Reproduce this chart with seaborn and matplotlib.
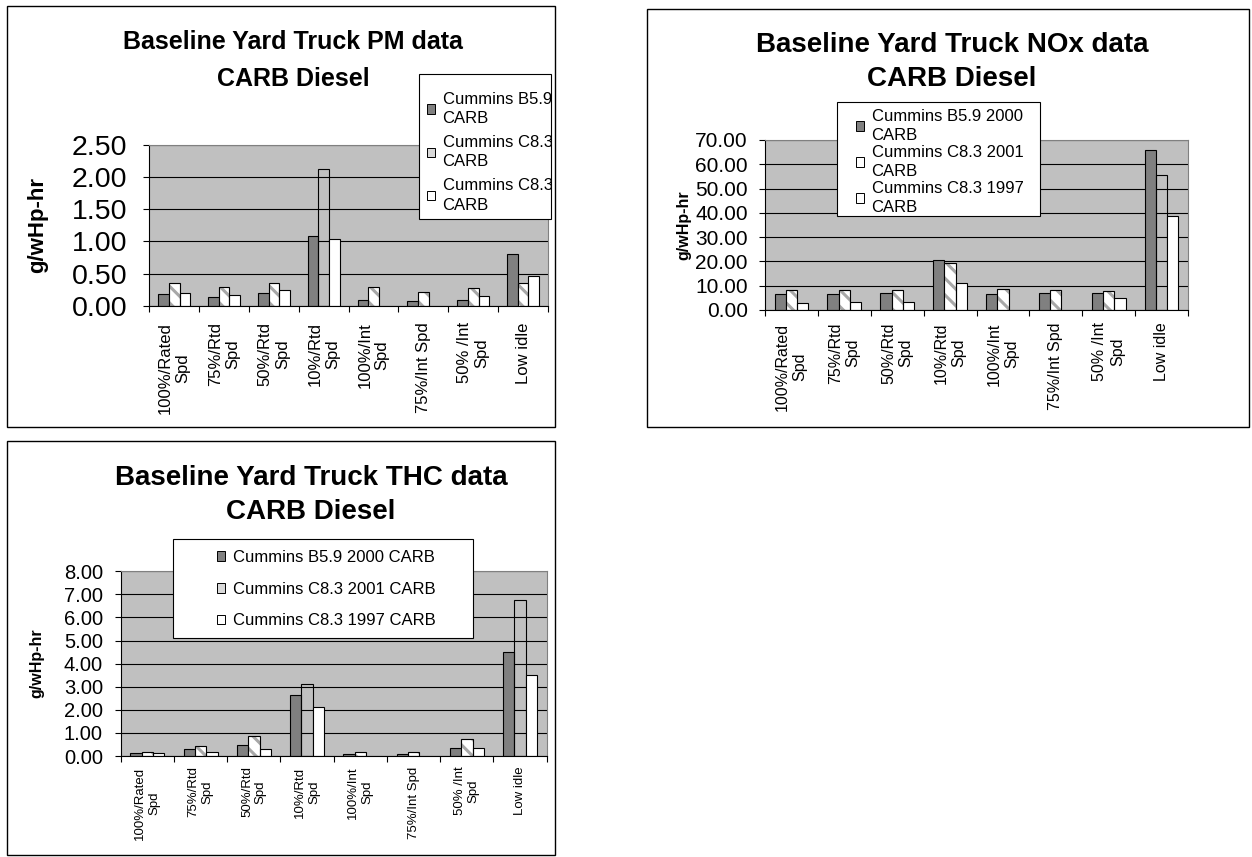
import numpy as np
import pandas as pd
import seaborn as sns
import matplotlib.pyplot as plt
import matplotlib.patches as mpatches
from matplotlib.transforms import Bbox, TransformedBbox

# operating modes (x categories) and the three engines (hue)
modes = ["100%/Rated\nSpd", "75%/Rtd\nSpd", "50%/Rtd\nSpd", "10%/Rtd\nSpd",
         "100%/Int\nSpd", "75%/Int Spd", "50% /Int\nSpd", "Low idle"]
engines = ["Cummins B5.9 2000 CARB", "Cummins C8.3 2001 CARB", "Cummins C8.3 1997 CARB"]

# PM g/wHp-hr
pm_b59 = [0.18, 0.13, 0.19, 1.08, 0.09, 0.07, 0.09, 0.80]
pm_c83_2001 = [0.36, 0.29, 0.36, 2.12, 0.29, 0.21, 0.27, 0.36]
pm_c83_1997 = [0.19, 0.16, 0.25, 1.03, np.nan, np.nan, 0.15, 0.46]
pm_ticks = [0.0, 0.5, 1.0, 1.5, 2.0, 2.5]

# NOx g/wHp-hr
nox_b59 = [6.5, 6.5, 7.2, 20.7, 6.5, 7.2, 7.2, 65.7]
nox_c83_2001 = [8.2, 8.2, 8.2, 19.2, 8.6, 8.2, 7.7, 55.4]
nox_c83_1997 = [2.8, 3.3, 3.3, 11.0, np.nan, np.nan, 5.0, 38.7]
nox_ticks = [0, 10, 20, 30, 40, 50, 60, 70]

# THC g/wHp-hr
thc_b59 = [0.15, 0.32, 0.49, 2.65, 0.09, 0.09, 0.36, 4.49]
thc_c83_2001 = [0.19, 0.43, 0.88, 3.10, 0.19, 0.19, 0.72, 6.76]
thc_c83_1997 = [0.14, 0.19, 0.32, 2.14, np.nan, np.nan, 0.36, 3.50]
thc_ticks = [0, 1, 2, 3, 4, 5, 6, 7, 8]

W, H = 1252, 857
plt.rcParams['font.family'] = ['Liberation Sans', 'DejaVu Sans']
plt.rcParams['hatch.linewidth'] = 2.2

colors = {engines[0]: '#808080', engines[1]: '#ffffff', engines[2]: '#ffffff'}


def fx(px):
    return px / W


def fy(py):
    return 1 - py / H


def make_df(a, b, c):
    rows = []
    for eng, vals in zip(engines, [a, b, c]):
        for m, v in zip(modes, vals):
            rows.append({'mode': m, 'engine': eng, 'value': v})
    return pd.DataFrame(rows)


def draw_chart(fig, box, df, ticks, hollow, ytick_size, ypad, xtick_size, xpad,
               ylabel_size, ylabel_x):
    x0, y0, x1, y1 = box
    ax = fig.add_axes([fx(x0), fy(y1), (x1 - x0) / W, (y1 - y0) / H])
    ax.set_facecolor('#c0c0c0')
    sns.barplot(data=df, x='mode', y='value', hue='engine', order=modes,
                hue_order=engines, palette=colors, edgecolor='black',
                linewidth=0.8, width=0.64, legend=False, ax=ax)
    # middle series: grey diagonal stripes, the tallest ones lost their fill
    for p in ax.containers[1]:
        cat = int(round(p.get_x() + p.get_width() / 2))
        if cat in hollow:
            p.set_facecolor('none')
            continue
        p.set_hatch('\\\\')
        p.set_edgecolor('#a8a8a8')
        ax.add_patch(mpatches.Rectangle(p.get_xy(), p.get_width(), p.get_height(),
                                        fill=False, ec='black', lw=0.8,
                                        zorder=p.get_zorder() + 0.1))
    ax.set_xlim(-0.5, len(modes) - 0.5)
    ax.set_ylim(ticks[0], ticks[-1])
    ax.set_yticks(ticks)
    ax.set_yticklabels([f"{t:.2f}" for t in ticks])
    ax.yaxis.grid(True, color='black', lw=0.8)
    ax.set_axisbelow(True)
    ax.set_xlabel('')
    ax.set_ylabel('g/wHp-hr', fontsize=ylabel_size, fontweight='bold')
    ax.yaxis.set_label_coords(ylabel_x, 0.5)
    ax.set_xticks(range(len(modes)))
    ax.set_xticklabels(modes)
    ax.set_xticks(np.arange(-0.5, len(modes)), minor=True)
    ax.tick_params(axis='x', which='major', length=0, pad=xpad,
                   labelsize=xtick_size, labelrotation=90)
    ax.tick_params(axis='x', which='minor', length=4.3, width=0.8, color='black')
    ax.tick_params(axis='y', length=4.3, width=0.8, pad=ypad, labelsize=ytick_size,
                   color='black')
    for t in ax.get_xticklabels():
        t.set_multialignment('center')
    for s in ['left', 'bottom']:
        ax.spines[s].set_color('black')
        ax.spines[s].set_linewidth(0.8)
    for s in ['top', 'right']:
        ax.spines[s].set_color('#808080')
        ax.spines[s].set_linewidth(0.8)
    return ax


def add_legend(fig, frame, anchor, labels, size, spacing, linespacing, handle2,
               clip_right=None):
    fx0, fy0, fx1, fy1 = frame
    fig.add_artist(mpatches.Rectangle((fx(fx0), fy(fy1)), (fx1 - fx0) / W,
                                      (fy1 - fy0) / H, transform=fig.transFigure,
                                      fc='white', ec='black', lw=0.8, zorder=4))
    handles = [mpatches.Patch(fc='#808080', ec='black', lw=0.7),
               mpatches.Patch(fc=handle2, ec='black', lw=0.7),
               mpatches.Patch(fc='white', ec='black', lw=0.7)]
    leg = fig.legend(handles, labels, loc='upper left',
                     bbox_to_anchor=(fx(anchor[0]), fy(anchor[1])),
                     frameon=False, borderpad=0, borderaxespad=0, fontsize=size,
                     handlelength=0.5, handleheight=0.5, handletextpad=0.45,
                     labelspacing=spacing)
    leg.set_zorder(5)
    for t in leg.get_texts():
        t.set_linespacing(linespacing)
        if clip_right is not None:
            # the long labels run past the legend box and get cut off there
            clip = Bbox([[fx(fx0), fy(fy1)], [fx(clip_right), fy(fy0)]])
            t.set_clip_box(TransformedBbox(clip, fig.transFigure))
            t.set_clip_on(True)
    return leg


def add_panel(fig, x0, y0, x1, y1):
    fig.add_artist(mpatches.Rectangle((fx(x0), fy(y1)), (x1 - x0) / W, (y1 - y0) / H,
                                      transform=fig.transFigure, fill=False,
                                      ec='black', lw=1.0, zorder=1))


def add_title(fig, cx, base1, base2, name, size):
    fig.text(fx(cx), fy(base1), f"Baseline Yard Truck {name} data", ha='center',
             va='baseline', fontsize=size, fontweight='bold')
    fig.text(fx(cx), fy(base2), "CARB Diesel", ha='center', va='baseline',
             fontsize=size, fontweight='bold')


fig = plt.figure(figsize=(W / 100, H / 100), dpi=100)

wrapped = [e.replace(' CARB', '\nCARB') for e in engines]

# PM
add_panel(fig, 7, 6, 555, 427)
draw_chart(fig, (149.3, 145, 548, 305.7), make_df(pm_b59, pm_c83_2001, pm_c83_1997),
           pm_ticks, {3}, 20.5, 11.5, 12, 12, 16, -0.255)
add_title(fig, 293, 49, 86, 'PM', 18)
add_legend(fig, (419, 74, 551, 219), (426.7, 92), wrapped, 12, 0.55, 1.34, '#d9d9d9',
           clip_right=551)

# NOx
add_panel(fig, 647, 9, 1249, 427)
draw_chart(fig, (765, 140, 1188, 310), make_df(nox_b59, nox_c83_2001, nox_c83_1997),
           nox_ticks, {7}, 15, 8, 11.5, 9, 11.5, -0.175)
add_title(fig, 952, 51.5, 86, 'NOx', 20)
add_legend(fig, (837, 102, 1040, 216), (855.7, 109), wrapped, 12, 0.15, 1.3, 'white')

# THC
add_panel(fig, 7, 441, 555, 855)
draw_chart(fig, (120.7, 571.3, 546.7, 756), make_df(thc_b59, thc_c83_2001, thc_c83_1997),
           thc_ticks, {3, 7}, 14.5, 8.5, 9.5, 7.5, 11.5, -0.178)
add_title(fig, 311, 485, 519, 'THC', 20)
add_legend(fig, (173, 539, 473, 638), (216.7, 550), engines, 12, 1.0, 1.2, '#d9d9d9')

fig.savefig('out.png', dpi=100)
